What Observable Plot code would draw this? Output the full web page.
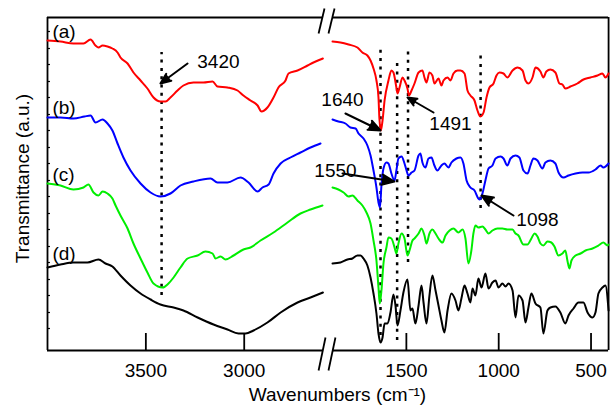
<!DOCTYPE html>
<html><head><meta charset="utf-8">
<script src="https://cdn.jsdelivr.net/npm/d3@7"></script>
<script src="https://cdn.jsdelivr.net/npm/@observablehq/plot@0.6"></script>
<style>body{margin:0;background:#fff;}</style>
</head><body><div id="chart"></div>
<script>
// Spectra: [wavenumber (cm-1), transmittance (a.u., offset)]
const aLeft = [[4000,310],[3934,309],[3868,307],[3817,307],[3781,311],[3756,305],[3741,303],[3720,305],[3695,304],[3670,302],[3644,298],[3629,293],[3593,287],[3563,278],[3527,270],[3492,262],[3461,253],[3426,249],[3400,249],[3375,253],[3339,260],[3309,265],[3258,268],[3207,268],[3161,269],[3136,264],[3085,263],[3034,260],[3004,255],[2968,250],[2932,245],[2912,239],[2882,243],[2851,253],[2826,263],[2790,270],[2775,277],[2729,280],[2678,285],[2648,288],[2600,292]];
const aRight = [[1900,309],[1857,308],[1813,306],[1765,303],[1738,298],[1711,295],[1694,290],[1678,282],[1662,270],[1651,253],[1646,232],[1638,220],[1629,230],[1618,250],[1597,270],[1581,280],[1570,278],[1554,263],[1548,257],[1537,263],[1521,273],[1510,270],[1494,262],[1486,255],[1472,260],[1456,267],[1434,278],[1413,280],[1402,273],[1391,268],[1375,278],[1359,275],[1348,267],[1326,272],[1310,265],[1299,270],[1277,273],[1261,270],[1245,277],[1223,280],[1207,280],[1185,277],[1169,260],[1153,255],[1131,250],[1115,240],[1099,234],[1082,238],[1066,253],[1050,263],[1028,267],[1012,275],[996,278],[974,277],[953,273],[925,280],[898,283],[871,280],[855,270],[839,267],[817,273],[801,283],[774,279],[758,273],[742,279],[720,281],[693,278],[671,267],[655,266],[639,262],[611,264],[574,267],[541,271],[503,273],[465,275],[438,277],[422,273],[405,277]];
const bLeft = [[4000,233],[3934,233],[3868,232],[3812,234],[3781,235],[3756,228],[3720,231],[3695,227],[3670,220],[3644,207],[3614,193],[3578,180],[3527,167],[3476,158],[3426,154],[3375,157],[3324,165],[3258,169],[3171,172],[3136,168],[3085,168],[3019,173],[2978,168],[2932,159],[2907,163],[2876,166],[2851,177],[2815,187],[2765,193],[2714,198],[2663,203],[2612,207]];
const bRight = [[1900,231],[1868,229],[1830,227],[1803,223],[1775,222],[1759,217],[1732,212],[1711,205],[1694,195],[1678,180],[1662,163],[1651,148],[1643,143],[1635,165],[1624,182],[1608,188],[1597,187],[1581,177],[1564,170],[1554,180],[1543,192],[1526,194],[1510,187],[1499,180],[1489,175],[1472,178],[1456,180],[1434,195],[1424,197],[1413,188],[1397,183],[1380,192],[1364,193],[1348,185],[1332,180],[1310,185],[1294,187],[1272,183],[1256,188],[1229,192],[1207,193],[1191,187],[1174,170],[1153,163],[1131,160],[1110,152],[1102,151],[1088,157],[1072,170],[1055,182],[1034,185],[1017,192],[990,194],[974,192],[953,185],[936,192],[909,195],[888,193],[866,180],[844,177],[828,185],[812,192],[790,190],[763,182],[747,188],[720,190],[693,187],[676,178],[649,173],[622,175],[584,177],[546,178],[514,178],[476,181],[449,185],[433,183],[405,187]];
const cLeft = [[4000,167],[3934,165],[3868,161],[3817,163],[3792,166],[3766,158],[3741,155],[3720,159],[3695,157],[3670,152],[3654,145],[3629,135],[3593,122],[3563,107],[3527,92],[3492,78],[3461,67],[3415,63],[3385,67],[3359,73],[3324,83],[3288,92],[3237,95],[3197,99],[3161,97],[3146,92],[3120,94],[3095,91],[3054,95],[3004,101],[2968,103],[2917,110],[2851,118],[2780,128],[2714,137],[2663,141],[2602,145]];
const cRight = [[1900,163],[1868,161],[1840,158],[1813,154],[1792,155],[1765,150],[1738,145],[1716,138],[1694,127],[1678,110],[1662,90],[1651,63],[1644,47],[1635,60],[1624,87],[1608,103],[1597,113],[1581,112],[1564,103],[1554,97],[1543,107],[1526,117],[1510,112],[1494,95],[1483,100],[1467,110],[1456,112],[1434,117],[1418,122],[1402,115],[1391,107],[1375,117],[1359,121],[1342,117],[1326,112],[1304,108],[1288,115],[1266,120],[1245,122],[1218,118],[1196,121],[1180,112],[1164,87],[1148,100],[1137,117],[1126,125],[1110,123],[1088,124],[1072,121],[1055,117],[1034,120],[1007,122],[980,122],[953,121],[925,121],[909,117],[893,115],[866,106],[844,106],[823,112],[806,117],[790,114],[774,107],[758,105],[736,109],[715,108],[698,104],[677,95],[655,97],[639,100],[628,90],[617,82],[606,90],[584,95],[557,97],[530,100],[492,102],[460,105],[433,108],[411,105],[405,106]];
const dLeft = [[4000,83],[3934,86],[3868,88],[3797,88],[3741,91],[3705,87],[3670,84],[3629,75],[3578,65],[3527,57],[3476,51],[3426,46],[3359,43],[3309,40],[3237,33],[3156,26],[3085,21],[3029,17],[2993,17],[2953,20],[2882,28],[2815,38],[2729,48],[2663,53],[2597,58]];
const dRight = [[1900,87],[1857,88],[1819,91],[1792,92],[1765,95],[1748,95],[1732,92],[1711,85],[1694,73],[1678,57],[1662,37],[1651,17],[1640,8],[1629,13],[1618,27],[1602,27],[1586,38],[1570,56],[1559,45],[1548,25],[1532,40],[1516,58],[1494,71],[1478,40],[1467,42],[1451,27],[1434,45],[1418,65],[1407,48],[1391,27],[1375,55],[1359,75],[1342,60],[1326,45],[1310,30],[1294,18],[1277,40],[1256,57],[1234,50],[1218,40],[1202,52],[1185,65],[1169,57],[1153,48],[1142,62],[1126,55],[1110,72],[1093,63],[1072,77],[1055,62],[1034,68],[1017,70],[1001,63],[980,67],[963,64],[947,67],[925,60],[909,33],[893,55],[871,50],[855,28],[839,43],[823,57],[801,47],[774,43],[758,17],[736,40],[720,43],[693,44],[666,38],[639,27],[622,35],[595,42],[568,48],[541,48],[519,38],[492,33],[476,38],[460,57],[438,63],[422,65],[405,40]];

const seriesNames = ["(a)", "(b)", "(c)", "(d)"];
const seriesColors = ["#ff0000", "#0000ff", "#00ee00", "#000000"];
const labelT = [319, 243, 176, 97];

const xTicks = [3500, 3000, 1500, 1000, 500];
const yMinorTicks = [22, 38, 55, 71, 88, 104, 121, 137, 154, 170, 187, 203, 220, 236, 253, 269, 286, 302, 319];

const peakLines = [
  {wn: 3420, y1: 55, y2: 298},
  {wn: 1640, y1: 15, y2: 303},
  {wn: 1550, y1: 10, y2: 288},
  {wn: 1491, y1: 88, y2: 300},
  {wn: 1098, y1: 142, y2: 295}
];
const peakTexts = [
  {text: "3420", wn: 3131, t: 289, anchor: "middle"},
  {text: "1640", wn: 1846, t: 251, anchor: "middle"},
  {text: "1491", wn: 1261, t: 227, anchor: "middle"},
  {text: "1550", wn: 1884, t: 180, anchor: "end"},
  {text: "1098", wn: 790, t: 131, anchor: "middle"}
];
const peakArrows = [
  {x1: 3288, y1: 287, x2: 3426, y2: 267},
  {x1: 1830, y1: 237, x2: 1640, y2: 220},
  {x1: 1353, y1: 238, x2: 1494, y2: 253},
  {x1: 1846, y1: 177, x2: 1565, y2: 169},
  {x1: 920, y1: 135, x2: 1093, y2: 155}
];
const breakMarks = [
  {x1: 2622, y1: 317, x2: 2483, y2: 342},
  {x1: 2192, y1: 317, x2: 1889, y2: 342},
  {x1: 2622, y1: -20, x2: 2410, y2: 13},
  {x1: 2192, y1: -20, x2: 1884, y2: 13}
];

const spectra = [[aLeft, aRight], [bLeft, bRight], [cLeft, cRight], [dLeft, dRight]];
const rows = [];
spectra.forEach(([L, R], i) => {
  for (const [wn, t] of L) rows.push({wn, t, key: seriesNames[i] + "L", color: seriesColors[i]});
  for (const [wn, t] of R) rows.push({wn, t, key: seriesNames[i] + "R", color: seriesColors[i]});
});
const labels = seriesNames.map((s, i) => ({text: s, wn: 3975, t: labelT[i]}));

const font = "'Liberation Sans', Arial, Helvetica, sans-serif";
const plot = Plot.plot({
  width: 610, height: 406,
  marginLeft: 47, marginRight: 1, marginTop: 17, marginBottom: 56,
  x: {type: "linear", domain: [4000, 2600, 1900, 400], range: [47, 322.4, 332, 609],
      ticks: xTicks, tickFormat: d => String(d), tickSize: 0, tickPadding: 13, label: null},
  y: {domain: [0, 333], range: [350, 17], axis: null},
  style: {fontFamily: font, fontSize: "19px", background: "white", color: "black", overflow: "visible"},
  marks: [
    Plot.ruleX([4000, 405], {y1: 0, y2: 333, strokeWidth: 1.8}),
    Plot.ruleY([0, 333], {x1: 4000, x2: 2600, strokeWidth: 1.8}),
    Plot.ruleY([0, 333], {x1: 1900, x2: 405, strokeWidth: 1.8}),
    Plot.link(breakMarks, {x1: "x1", y1: "y1", x2: "x2", y2: "y2", strokeWidth: 1.8}),
    Plot.ruleX(xTicks, {y1: 0, y2: 17, strokeWidth: 1.8}),
    Plot.ruleY(yMinorTicks, {x1: 4000, x2: 3985, strokeWidth: 1.2}),
    Plot.ruleX(peakLines, {x: "wn", y1: "y1", y2: "y2", strokeDasharray: "3,5.3", strokeWidth: 2.5}),
    Plot.line(rows, {x: "wn", y: "t", z: "key", stroke: "color", strokeWidth: 2, curve: "monotone-x"}),
    Plot.arrow(peakArrows, {x1: "x1", y1: "y1", x2: "x2", y2: "y2", fill: "black", stroke: "black",
      strokeWidth: 2, headLength: 10, headAngle: 45}),
    Plot.text(peakTexts, {x: "wn", y: "t", text: "text", textAnchor: "anchor", fontSize: 19}),
    Plot.text(labels, {x: "wn", y: "t", text: "text", textAnchor: "start", fontSize: 19}),
    Plot.text(["Wavenumbers (cm\u207B\u00B9)"], {frameAnchor: "bottom", textAnchor: "middle", lineAnchor: "middle", dx: 9, dy: 44, fontSize: 19}),
    Plot.text(["Transmittance (a.u.)"], {frameAnchor: "left", textAnchor: "middle", lineAnchor: "middle", rotate: -90, dx: -25, dy: -5.5, fontSize: 19})
  ]
});
document.getElementById("chart").appendChild(plot);
</script>
</body></html>
